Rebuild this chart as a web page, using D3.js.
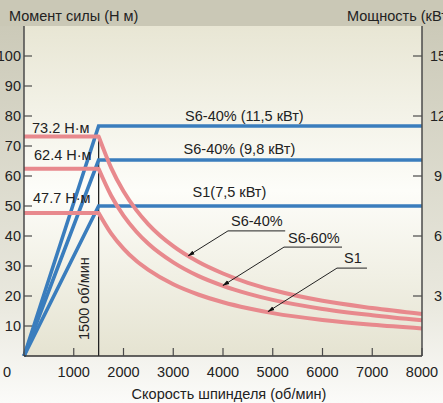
<!DOCTYPE html>
<html><head><meta charset="utf-8">
<script src="https://cdn.jsdelivr.net/npm/d3@7"></script>
<style>
html,body{margin:0;padding:0;background:#fff;}
svg{display:block;font-family:"Liberation Sans",Arial,sans-serif;}
</style></head>
<body>
<div id="chart"></div>
<script>
// ---- data ----
const xTickValues = [1000,2000,3000,4000,5000,6000,7000,8000];
const leftTickValues = [10,20,30,40,50,60,70,80,90,100];
const rightTickValues = [3,6,9,12,15];
const baseSpeed = 1500;
const maxSpeed = 8000;
const powerLevels = [11.5, 9.8, 7.5];           // кВт
const powerLabels = ["S6-40% (11,5 кВт)", "S6-40% (9,8 кВт)", "S1(7,5 кВт)"];
const torqueLabels = ["73.2 Н·м", "62.4 Н·м", "47.7 Н·м"];
const curveSpeeds = [1500,1750,2000,2250,2500,3000,3500,4000,4500,5000,6000,7000,8000];
const torqueS640 = [73.2,62.8,54.9,48.8,43.9,36.6,31.4,27.5,24.4,22.0,18.4,16.0,14.0];
const torqueS660 = [62.4,53.5,46.8,41.6,37.4,31.2,26.7,23.4,20.8,18.7,15.7,13.6,11.9];
const torqueS1   = [47.7,40.9,35.8,31.8,28.7,23.9,20.5,17.9,15.9,14.3,12.0,10.4,9.2];
const curveNames = ["S6-40%", "S6-60%", "S1"];

// ---- layout ----
const W = 443, H = 403;
const L = 24, R = 422, T = 26, B = 356;
const x = d3.scaleLinear().domain([0, maxSpeed]).range([L, R]);
const yT = d3.scaleLinear().domain([0, 110]).range([B, T]);
const yP = d3.scaleLinear().domain([0, 16.5]).range([B, T]);

const svg = d3.select("#chart").append("svg").attr("width", W).attr("height", H);
const defs = svg.append("defs");
const bg = defs.append("linearGradient").attr("id","bg").attr("x1",0).attr("y1",0).attr("x2",0).attr("y2",1);
bg.append("stop").attr("offset",0).attr("stop-color","#c9c7b5");
bg.append("stop").attr("offset",0.75).attr("stop-color","#e9e8de");
bg.append("stop").attr("offset",1).attr("stop-color","#fbfbf9");
const pg = defs.append("linearGradient").attr("id","pg").attr("x1",0).attr("y1",0).attr("x2",0).attr("y2",1);
pg.append("stop").attr("offset",0).attr("stop-color","#e8e6d4");
pg.append("stop").attr("offset",0.5).attr("stop-color","#fdfdf9");
pg.append("stop").attr("offset",1).attr("stop-color","#e5e3d1");
defs.append("marker").attr("id","arr").attr("viewBox","0 -4 10 8")
  .attr("refX",9).attr("refY",0).attr("markerWidth",7).attr("markerHeight",6)
  .attr("markerUnits","userSpaceOnUse").attr("orient","auto")
  .append("path").attr("d","M0,-3L10,0L0,3Z").attr("fill","#111");

svg.append("rect").attr("width",W).attr("height",H).attr("fill","url(#bg)");
svg.append("rect").attr("width",W).attr("height",T).attr("fill","#cac8b6");
svg.append("rect").attr("x",L).attr("y",T).attr("width",R-L).attr("height",B-T).attr("fill","url(#pg)");

const txt = (g) => g.attr("font-size",14.5).attr("fill","#222");

// headers
txt(svg.append("text").attr("x",9).attr("y",21).text("Момент силы (Н м)"));
txt(svg.append("text").attr("x",347).attr("y",21).text("Мощность (кВт)"));

// 1500 line
svg.append("line").attr("x1",x(baseSpeed)).attr("x2",x(baseSpeed))
  .attr("y1",yT(torqueS640[0])).attr("y2",B).attr("stroke","#222").attr("stroke-width",1.3);
txt(svg.append("text")).attr("transform",`translate(${x(baseSpeed)-10},340) rotate(-90)`).text("1500 об/мин");

// power lines
const pLine = d3.line().x(d=>x(d[0])).y(d=>yP(d[1]));
powerLevels.forEach((p,i)=>{
  svg.append("path").attr("d", pLine([[0,0],[baseSpeed,p],[maxSpeed,p]]))
    .attr("fill","none").attr("stroke","#3a7dbd").attr("stroke-width",3.6)
    .attr("stroke-linejoin","miter");
});
const pOff = [5, 6, 9];
powerLevels.forEach((p,i)=>{
  txt(svg.append("text")).attr("x", x([4430,4330,4130][i])).attr("y", yP(p)-pOff[i])
    .attr("text-anchor","middle").text(powerLabels[i]);
});

// torque curves
const curves = [torqueS640, torqueS660, torqueS1];
const cLine = d3.line().x((d,i)=>x(curveSpeeds[i])).y(d=>yT(d)).curve(d3.curveMonotoneX);
curves.forEach(c=>{
  const d = `M${x(0)},${yT(c[0])}L` + cLine(c).slice(1);
  svg.append("path").attr("d", d).attr("fill","none").attr("stroke","#e8898d")
    .attr("stroke-width",4).attr("stroke-linejoin","round");
});
const tOff = [3.5, 9, 9.5];
const tX = [32, 34, 33];
curves.forEach((c,i)=>{
  txt(svg.append("text")).attr("x", tX[i]).attr("y", yT(c[0])-tOff[i]).text(torqueLabels[i]);
});

// axes
const ax = svg.append("g").attr("stroke","#4a4a4a").attr("stroke-width",1.5);
ax.append("line").attr("x1",L).attr("x2",L).attr("y1",T).attr("y2",B);
ax.append("line").attr("x1",R).attr("x2",R).attr("y1",T).attr("y2",B);
ax.append("line").attr("x1",L).attr("x2",R).attr("y1",B).attr("y2",B).attr("stroke","#333");
leftTickValues.forEach(v=>{
  ax.append("line").attr("x1",L).attr("x2",L+8).attr("y1",yT(v)).attr("y2",yT(v)).attr("stroke-width",1.2);
  txt(svg.append("text")).attr("x",21).attr("y",yT(v)).attr("dy","0.36em").attr("text-anchor","end").text(v);
});
rightTickValues.forEach(v=>{
  ax.append("line").attr("x1",R-9).attr("x2",R).attr("y1",yP(v)).attr("y2",yP(v)).attr("stroke-width",1.2);
  txt(svg.append("text")).attr("x",438).attr("y",yP(v)).attr("dy","0.36em").attr("text-anchor","middle").text(v);
});
xTickValues.forEach(v=>{
  ax.append("line").attr("x1",x(v)).attr("x2",x(v)).attr("y1",B-8).attr("y2",B).attr("stroke-width",1.2);
  txt(svg.append("text")).attr("x",x(v)).attr("y",377).attr("text-anchor","middle").text(v);
});
txt(svg.append("text")).attr("x",x(0)-17).attr("y",377).attr("text-anchor","middle").text(0);
txt(svg.append("text")).attr("x",229).attr("y",399).attr("text-anchor","middle").text("Скорость шпинделя (об/мин)");

// annotations
const ann = [
  {tip:[3300, 33.4], elbow:[4100, 41.7], end:[5250, 41.7], text:[4161, 43.3]},
  {tip:[4000, 23.5], elbow:[5226, 36.3], end:[6392, 36.3], text:[5307, 37.7]},
  {tip:[4905, 14.8], elbow:[6291, 29.3], end:[6894, 29.3], text:[6432, 31.0]}
];
ann.forEach((a,i)=>{
  svg.append("line").attr("x1",x(a.elbow[0])).attr("y1",yT(a.elbow[1])).attr("x2",x(a.end[0])).attr("y2",yT(a.end[1]))
    .attr("stroke","#222").attr("stroke-width",1);
  svg.append("line").attr("x1",x(a.elbow[0])).attr("y1",yT(a.elbow[1])).attr("x2",x(a.tip[0])).attr("y2",yT(a.tip[1]))
    .attr("stroke","#222").attr("stroke-width",1).attr("marker-end","url(#arr)");
  txt(svg.append("text")).attr("x",x(a.text[0])).attr("y",yT(a.text[1])).text(curveNames[i]);
});
</script>
</body></html>
